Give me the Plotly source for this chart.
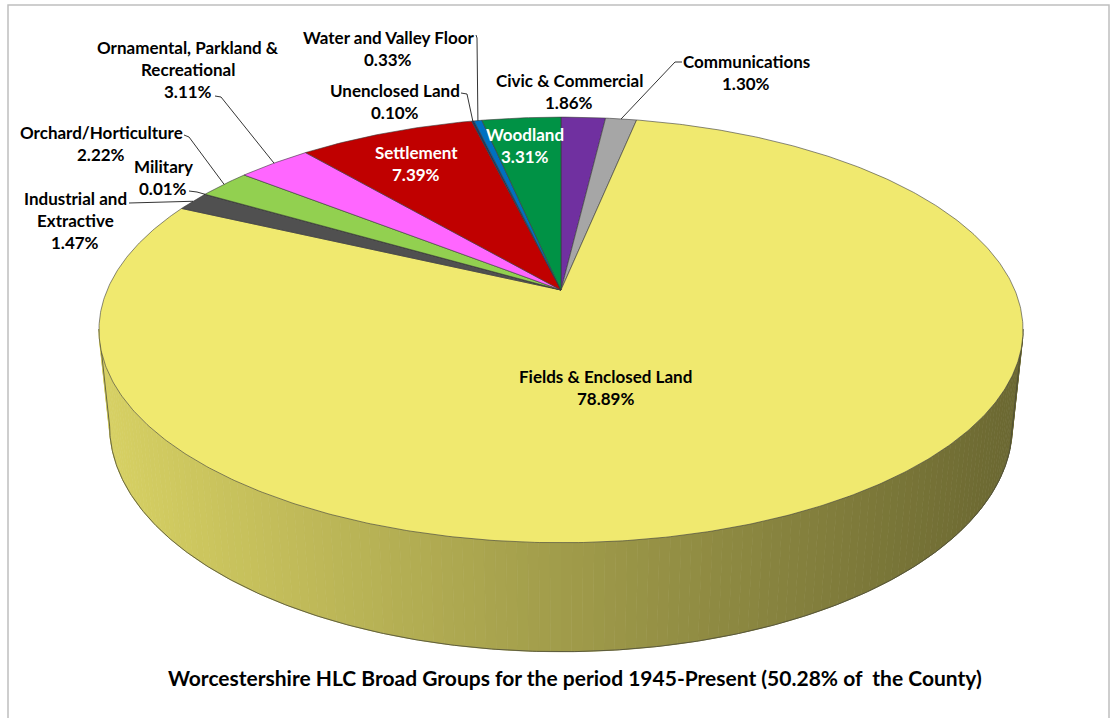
import numpy as np
import plotly.graph_objects as go

# ---- data -------------------------------------------------------------
categories = [
    "Civic & Commercial", "Communications", "Fields & Enclosed Land",
    "Industrial and Extractive", "Military", "Orchard/Horticulture",
    "Ornamental, Parkland & Recreational", "Settlement", "Unenclosed Land",
    "Water and Valley Floor", "Woodland",
]
shares = [1.86, 1.30, 78.89, 1.47, 0.01, 2.22, 3.11, 7.39, 0.10, 0.33, 3.31]
label_lines = [
    ["Civic & Commercial"], ["Communications"], ["Fields & Enclosed Land"],
    ["Industrial and", "Extractive"], ["Military"], ["Orchard/Horticulture"],
    ["Ornamental, Parkland &", "Recreational"], ["Settlement"],
    ["Unenclosed Land"], ["Water and Valley Floor"], ["Woodland"],
]
title_text = "Worcestershire HLC Broad Groups for the period 1945-Present (50.28% of\u00a0 the County)"

# ---- styling ----------------------------------------------------------
colors = ["#7030A0", "#A6A6A6", "#F0E96F", "#505050", "#2F4F2F", "#92D050",
          "#FF66FF", "#C00000", "#1F3864", "#0070C0", "#009245"]
label_color = ["black", "black", "black", "black", "black", "black",
               "black", "white", "black", "black", "white"]
# label block centre x, y of first line, and optional leader start/elbow
label_layout = {
    0: dict(x=569, y=80, leader=None),
    1: dict(x=746, y=61, leader=[(682, 62), (675, 62)]),
    2: dict(x=605, y=376, leader=None),
    3: dict(x=75, y=198, leader=[(129, 203)]),
    4: dict(x=163, y=166, leader=[(189, 191), (197, 192)]),
    5: dict(x=101, y=132, leader=[(184, 135), (189, 137)]),
    6: dict(x=188, y=47, leader=[(215, 96), (221, 97)]),
    7: dict(x=416, y=152, leader=None),
    8: dict(x=395, y=90, leader=[(461, 93), (467, 94)]),
    9: dict(x=388, y=37, leader=[(476, 35), (477, 38)]),
    10: dict(x=525, y=134, leader=None),
}
LINE_STEP = 22
FONT = "Lato"
LABEL_SIZE = 17
TITLE_SIZE = 21

# ---- 3-D projection of the pie disc -------------------------------------
PHI = np.radians(26.9)
S, C = np.sin(PHI), np.cos(PHI)
DIST, FOC = 4.753, 2157.0
CX, CY = 561.0, 290.0
DEPTH = 0.239


def project(theta, z=0.0, r=1.0):
    X = r * np.sin(theta)
    Y = r * np.cos(theta)
    v = Y * S + z * C
    w = DIST + Y * C - z * S
    return CX + FOC * X / w, CY - FOC * v / w


fracs = np.array(shares) / sum(shares)
ends = np.cumsum(fracs) * 2 * np.pi
starts = ends - fracs * 2 * np.pi

fig = go.Figure()

# ---- side wall (shaded strips, far ones first) -------------------------
def slice_index(theta):
    t = theta % (2 * np.pi)
    return int(np.searchsorted(ends, t, side="right").clip(0, len(shares) - 1))


def shade(hex_color, k):
    h = hex_color.lstrip("#")
    rgb = [int(h[i:i + 2], 16) for i in (0, 2, 4)]
    return "rgb({},{},{})".format(*[int(round(c * k)) for c in rgb])


tt = np.linspace(np.radians(60), np.radians(300), 2401)
top_x, _ = project(tt, 0.0)
bot_x, _ = project(tt, -DEPTH)
t_right = min(tt[np.argmax(top_x)], tt[np.argmax(bot_x)])
t_left = max(tt[np.argmin(top_x)], tt[np.argmin(bot_x)])

n_strips = 140
edges = np.linspace(t_right, t_left, n_strips + 1)
xmin, xmax = top_x.min(), top_x.max()
strips = []
for a, b in zip(edges[:-1], edges[1:]):
    seg = np.linspace(a, b, 4)
    xs_t, ys_t = project(seg, 0.0)
    xs_b, ys_b = project(seg[::-1], -DEPTH)
    mid = 0.5 * (a + b)
    mx, _ = project(mid, -DEPTH / 2)
    u = (mx - xmin) / (xmax - xmin)
    k = 0.90 - 0.46 * u
    col = shade(colors[slice_index(mid)], k)
    depth = DIST + np.cos(mid) * C
    strips.append((depth, np.r_[xs_t, xs_b], np.r_[ys_t, ys_b], col))
strips.sort(key=lambda s: -s[0])
for _, xs, ys, col in strips:
    fig.add_trace(go.Scatter(x=xs, y=ys, fill="toself", fillcolor=col,
                             mode="lines", line=dict(color=col, width=1),
                             hoverinfo="skip", showlegend=False))

# wall outline: silhouettes and bottom rim
tb = np.linspace(t_right, t_left, 400)
bx, by = project(tb, -DEPTH)
rx0, ry0 = project(t_right, 0.0)
lx0, ly0 = project(t_left, 0.0)
fig.add_trace(go.Scatter(x=np.r_[rx0, bx, lx0], y=np.r_[ry0, by, ly0],
                         mode="lines", line=dict(color="#4a4a3a", width=0.8),
                         hoverinfo="skip", showlegend=False))

# ---- top face slices ---------------------------------------------------
for i, (a, b) in enumerate(zip(starts, ends)):
    n = max(3, int((b - a) / (2 * np.pi) * 720))
    seg = np.linspace(a, b, n)
    xs, ys = project(seg, 0.0)
    fig.add_trace(go.Scatter(
        x=np.r_[CX, xs, CX], y=np.r_[CY, ys, CY], fill="toself",
        fillcolor=colors[i], mode="lines",
        line=dict(color="#3a3a3a", width=0.6),
        name=categories[i], hoverinfo="name", showlegend=False))

# ---- labels and leader lines -------------------------------------------
annotations = []
for i, share in enumerate(shares):
    lay = label_layout[i]
    lines = label_lines[i] + [f"{share:.2f}%"]
    for j, txt in enumerate(lines):
        annotations.append(dict(
            x=lay["x"], y=lay["y"] + j * LINE_STEP, xref="x", yref="y",
            text=txt, showarrow=False, xanchor="center", yanchor="middle",
            font=dict(family=FONT, size=LABEL_SIZE, color=label_color[i],
                      weight="bold")))
    if lay["leader"]:
        mid = 0.5 * (starts[i] + ends[i])
        ex, ey = project(mid, 0.0)
        pts = lay["leader"] + [(ex, ey)]
        fig.add_trace(go.Scatter(x=[p[0] for p in pts], y=[p[1] for p in pts],
                                 mode="lines", line=dict(color="black", width=0.8),
                                 hoverinfo="skip", showlegend=False))

annotations.append(dict(
    x=575, y=677, xref="x", yref="y", text=title_text, showarrow=False,
    xanchor="center", yanchor="middle",
    font=dict(family=FONT, size=TITLE_SIZE, color="black", weight="bold")))

fig.update_layout(
    width=1112, height=718,
    margin=dict(l=0, r=0, t=0, b=0),
    paper_bgcolor="white", plot_bgcolor="white",
    xaxis=dict(range=[0, 1112], visible=False, fixedrange=True),
    yaxis=dict(range=[718, 0], visible=False, fixedrange=True),
    annotations=annotations,
    shapes=[dict(type="rect", xref="x", yref="y", x0=8, y0=5, x1=1109, y1=730,
                 line=dict(color="#BFBFBF", width=1.5), fillcolor="rgba(0,0,0,0)",
                 layer="below")],
)

fig.write_html("out.html")
